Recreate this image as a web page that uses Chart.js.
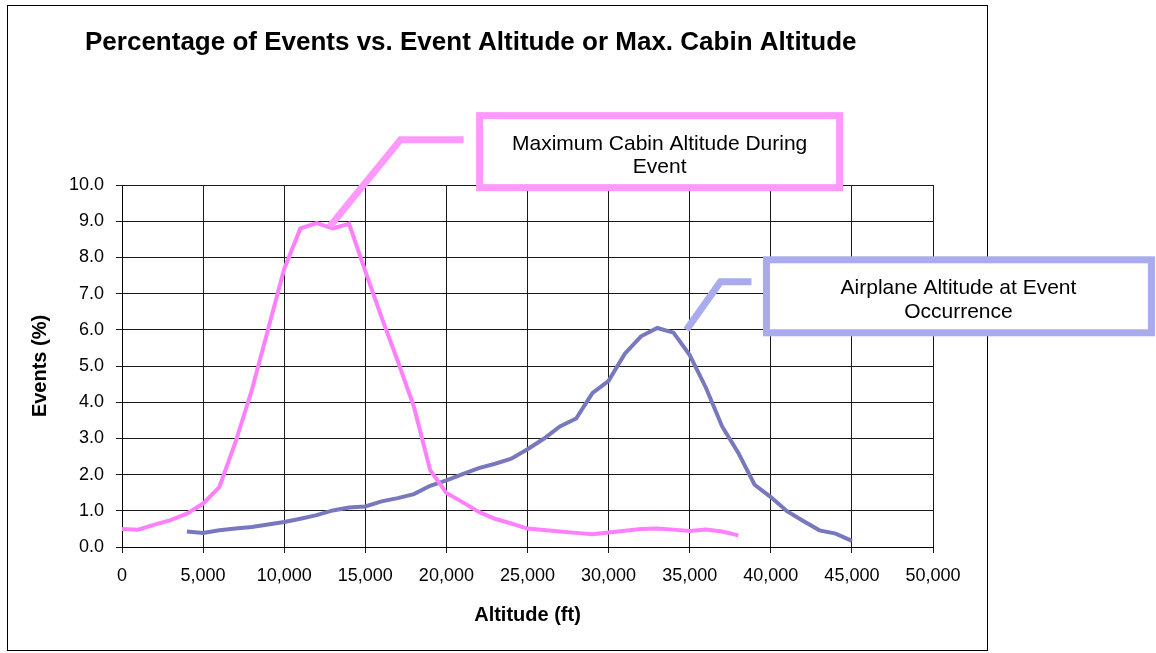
<!DOCTYPE html>
<html>
<head>
<meta charset="utf-8">
<title>Percentage of Events vs. Event Altitude or Max. Cabin Altitude</title>
<script src="https://cdn.jsdelivr.net/npm/chart.js@4.4.1/dist/chart.umd.min.js"></script>
<style>
  html, body { margin: 0; padding: 0; background: #ffffff; }
  #wrap { width: 1156px; height: 653px; }
</style>
</head>
<body>
<div id="wrap"><canvas id="chart" width="1156" height="653"></canvas></div>
<script>
// Maximum cabin altitude during event (ft) / percentage of events
const cabinAlt = [0, 1000, 2000, 3000, 4000, 5000, 6000, 7000, 8000, 9000,
  10000, 11000, 12000, 13000, 14000, 15000, 16000, 17000, 18000, 19000,
  20000, 21000, 22000, 23000, 24000, 25000, 26000, 27000, 28000, 29000,
  30000, 31000, 32000, 33000, 34000, 35000, 36000, 37000, 38000];
const cabinPct = [0.50, 0.48, 0.62, 0.74, 0.92, 1.20, 1.65, 2.90, 4.33, 6.00,
  7.68, 8.80, 8.95, 8.80, 8.93, 7.62, 6.35, 5.14, 3.87, 2.12,
  1.49, 1.24, 0.97, 0.78, 0.65, 0.51, 0.47, 0.43, 0.39, 0.35,
  0.40, 0.45, 0.50, 0.51, 0.48, 0.44, 0.48, 0.43, 0.32];

// Airplane altitude at event occurrence (ft) / percentage of events
const planeAlt = [4000, 5000, 6000, 7000, 8000, 9000, 10000, 11000, 12000, 13000,
  14000, 15000, 16000, 17000, 18000, 19000, 20000, 21000, 22000, 23000,
  24000, 25000, 26000, 27000, 28000, 29000, 30000, 31000, 32000, 33000,
  34000, 35000, 36000, 37000, 38000, 39000, 40000, 41000, 42000, 43000,
  44000, 45000];
const planePct = [0.43, 0.39, 0.46, 0.51, 0.55, 0.62, 0.69, 0.78, 0.88, 1.01,
  1.09, 1.12, 1.26, 1.35, 1.46, 1.69, 1.84, 2.01, 2.18, 2.30,
  2.44, 2.70, 2.99, 3.33, 3.55, 4.25, 4.59, 5.34, 5.82, 6.05,
  5.92, 5.30, 4.40, 3.33, 2.60, 1.72, 1.38, 0.99, 0.72, 0.46,
  0.37, 0.17];

const xTicks = { min: 0, max: 50000, step: 5000 };
const yTicks = { min: 0, max: 10, step: 1 };

const titleText = 'Percentage of Events vs. Event Altitude or Max. Cabin Altitude';
const xTitle = 'Altitude (ft)';
const yTitle = 'Events (%)';

// callout labels, anchored on a data position
const callouts = [
  { lines: ['Maximum Cabin Altitude During', 'Event'], at: { x: 12800, y: 8.85 },
    color: '#FF99FF', elbow: [71, -87], end: [134, -87],
    box: { dx: 150, dy: -111, w: 360, h: 72 }, text: { dx: 330, dy: -77, gap: 23 } },
  { lines: ['Airplane Altitude at Event', 'Occurrence'], at: { x: 34800, y: 6.0 },
    color: '#AAAAEE', elbow: [34, -48], end: [65, -48],
    box: { dx: 80, dy: -70, w: 385, h: 73 }, text: { dx: 272, dy: -36, gap: 24 } }
];

const FONT = '"Liberation Sans", Arial, Helvetica, sans-serif';
Chart.defaults.font.family = FONT;
Chart.defaults.color = '#000';

const toPoints = (xs, ys) => xs.map((x, i) => ({ x: x, y: ys[i] }));

// frame + title + callouts
const decorations = {
  id: 'decorations',
  beforeDraw(chart) {
    const ctx = chart.ctx;
    ctx.save();
    ctx.fillStyle = '#fff';
    ctx.fillRect(0, 0, chart.width, chart.height);
    ctx.strokeStyle = '#000';
    ctx.lineWidth = 1;
    ctx.strokeRect(7.5, 5.5, 980, 645);
    ctx.restore();
  },
  afterDraw(chart) {
    const ctx = chart.ctx;
    const xs = chart.scales.x, ys = chart.scales.y;
    ctx.save();
    ctx.fillStyle = '#000';
    ctx.font = 'bold 26px ' + FONT;
    ctx.textAlign = 'left';
    ctx.textBaseline = 'alphabetic';
    ctx.fillText(titleText, 85, 50);

    callouts.forEach(c => {
      const ax = xs.getPixelForValue(c.at.x);
      const ay = ys.getPixelForValue(c.at.y);
      ctx.strokeStyle = c.color;
      ctx.lineWidth = 7;
      ctx.lineJoin = 'miter';
      ctx.beginPath();
      ctx.moveTo(ax, ay);
      ctx.lineTo(ax + c.elbow[0], ay + c.elbow[1]);
      ctx.lineTo(ax + c.end[0], ay + c.end[1]);
      ctx.stroke();

      ctx.fillStyle = '#fff';
      ctx.fillRect(ax + c.box.dx, ay + c.box.dy, c.box.w, c.box.h);
      ctx.strokeRect(ax + c.box.dx, ay + c.box.dy, c.box.w, c.box.h);

      ctx.fillStyle = '#000';
      ctx.font = '21px ' + FONT;
      ctx.textAlign = 'center';
      c.lines.forEach((t, i) => {
        ctx.fillText(t, ax + c.text.dx, ay + c.text.dy + i * c.text.gap);
      });
    });
    ctx.restore();
  }
};

new Chart(document.getElementById('chart'), {
  type: 'scatter',
  data: {
    datasets: [
      {
        label: 'Maximum Cabin Altitude During Event',
        data: toPoints(cabinAlt, cabinPct),
        showLine: true,
        borderColor: '#FF80FF',
        borderWidth: 4,
        pointRadius: 0,
        tension: 0
      },
      {
        label: 'Airplane Altitude at Event Occurrence',
        data: toPoints(planeAlt, planePct),
        showLine: true,
        borderColor: '#7878BE',
        borderWidth: 4,
        pointRadius: 0,
        tension: 0
      }
    ]
  },
  options: {
    responsive: false,
    animation: false,
    layout: { padding: { left: 20, top: 185, right: 223, bottom: 0 } },
    plugins: {
      legend: { display: false },
      title: { display: false },
      tooltip: { enabled: false }
    },
    scales: {
      x: {
        type: 'linear',
        min: xTicks.min,
        max: xTicks.max,
        afterFit(scale) { scale.height = 106; },
        ticks: {
          stepSize: xTicks.step,
          padding: 12,
          font: { size: 18 },
          maxRotation: 0,
          callback: v => v.toLocaleString('en-US')
        },
        grid: { color: '#1a1a1a', lineWidth: 1, tickLength: 6 },
        border: { color: '#000', width: 1 },
        title: {
          display: true,
          text: xTitle,
          font: { size: 20, weight: 'bold' },
          padding: { top: 0, bottom: 26 }
        }
      },
      y: {
        type: 'linear',
        min: yTicks.min,
        max: yTicks.max,
        afterFit(scale) { scale.width = 102; },
        ticks: {
          stepSize: yTicks.step,
          padding: 12,
          font: { size: 18 },
          callback: v => v.toFixed(1)
        },
        grid: { color: '#1a1a1a', lineWidth: 1, tickLength: 6 },
        border: { color: '#000', width: 1 },
        title: {
          display: true,
          text: yTitle,
          font: { size: 20, weight: 'bold' },
          padding: { top: 8, bottom: 0 }
        }
      }
    }
  },
  plugins: [decorations]
});
</script>
</body>
</html>
